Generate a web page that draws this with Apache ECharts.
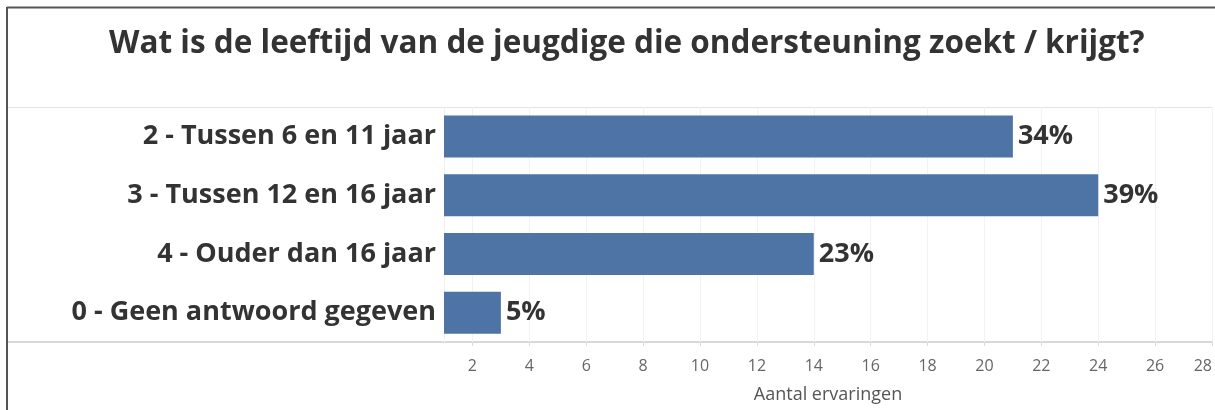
<!DOCTYPE html>
<html><head><meta charset="utf-8">
<script src="https://cdn.jsdelivr.net/npm/echarts@6/dist/echarts.min.js"></script>
<style>html,body{margin:0;padding:0;background:#fff}#c{width:1215px;height:410px}</style>
</head><body><div id="c"></div>
<script>
const categories = ['2 - Tussen 6 en 11 jaar', '3 - Tussen 12 en 16 jaar', '4 - Ouder dan 16 jaar', '0 - Geen antwoord gegeven'];
const counts = [21, 24, 14, 3];
const percentLabels = ['34%', '39%', '23%', '5%'];
const tickValues = [2, 4, 6, 8, 10, 12, 14, 16, 18, 20, 22, 24, 26, 28];
const titleText = 'Wat is de leeftijd van de jeugdige die ondersteuning zoekt / krijgt?';
const axisTitle = 'Aantal ervaringen';

const FONT = '"Open Sans", "Noto Sans", sans-serif';
const chart = echarts.init(document.getElementById('c'), null, {renderer: 'canvas'});
chart.setOption({
  animation: false,
  title: {
    text: titleText, left: 104, top: 23,
    textStyle: {fontFamily: FONT, fontSize: 31.5, fontWeight: 'bold', color: '#333'}
  },
  grid: {left: 444, right: 3, top: 107, bottom: 68, containLabel: false},
  xAxis: {
    type: 'value', min: 1, max: 28, interval: 1,
    name: axisTitle, nameLocation: 'middle', nameGap: 44,
    nameTextStyle: {fontFamily: FONT, fontSize: 18, color: '#555'},
    axisLine: {show: false},
    axisTick: {show: true, customValues: tickValues, length: 4, lineStyle: {color: '#ddd'}},
    axisLabel: {
      showMinLabel: false, margin: 16, alignMaxLabel: 'right',
      formatter: v => (tickValues.indexOf(v) >= 0 ? String(v) : ''),
      fontFamily: FONT, fontSize: 16, color: '#666'
    },
    splitLine: {show: true, lineStyle: {color: '#f2f2f2', width: 1}}
  },
  yAxis: {
    type: 'category', data: categories, inverse: true,
    axisLine: {show: true, lineStyle: {color: '#f0f0f0'}},
    axisTick: {show: false},
    axisLabel: {fontFamily: FONT, fontSize: 27, fontWeight: 'bold', color: '#333', margin: 8}
  },
  series: [{
    type: 'bar', data: counts, barWidth: 42,
    itemStyle: {color: '#4e74a6'},
    label: {
      show: true, position: 'right', distance: 5,
      formatter: p => percentLabels[p.dataIndex],
      fontFamily: FONT, fontSize: 27, fontWeight: 'bold', color: '#333'
    }
  }],
  graphic: [
    {type: 'line', shape: {x1: 7, y1: 7.5, x2: 1215, y2: 7.5}, style: {stroke: '#555', lineWidth: 2}},
    {type: 'line', shape: {x1: 7, y1: 7, x2: 7, y2: 410}, style: {stroke: '#555', lineWidth: 2}},
    {type: 'line', shape: {x1: 8, y1: 107.5, x2: 1212, y2: 107.5}, style: {stroke: '#e3e3e3', lineWidth: 1}},
    {type: 'line', shape: {x1: 8, y1: 342, x2: 1212, y2: 342}, style: {stroke: '#d8d8d8', lineWidth: 2}},
    {type: 'line', shape: {x1: 1212.5, y1: 107, x2: 1212.5, y2: 342}, style: {stroke: '#e3e3e3', lineWidth: 1}}
  ]
});
</script></body></html>
